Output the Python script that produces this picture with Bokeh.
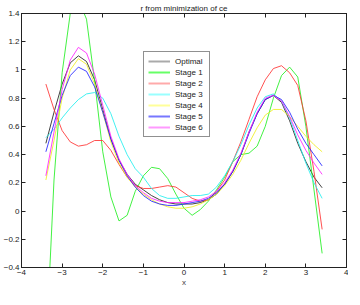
from bokeh.plotting import figure
from bokeh.models import (Range1d, LinearAxis, FixedTicker, Title, CustomJSTickFormatter,
                          Legend, LegendItem)
from bokeh.embed import file_html
from bokeh.resources import INLINE

x = [-3.4, -3.2, -3.0, -2.8, -2.6, -2.4, -2.2, -2.0, -1.8, -1.6, -1.4, -1.2,
     -1.0, -0.8, -0.6, -0.4, -0.2, 0.0, 0.2, 0.4, 0.6, 0.8, 1.0, 1.2,
     1.4, 1.6, 1.8, 2.0, 2.2, 2.4, 2.6, 2.8, 3.0, 3.2, 3.4]

optimal = [0.48, 0.70, 0.90, 1.05, 1.10, 1.06, 0.93, 0.72, 0.51, 0.36, 0.26, 0.19,
           0.15, 0.11, 0.08, 0.06, 0.05, 0.05, 0.05, 0.06, 0.08, 0.12, 0.19, 0.28,
           0.40, 0.56, 0.69, 0.79, 0.82, 0.77, 0.64, 0.48, 0.35, 0.24, 0.165]
stage1 = [-1.00, 0.22, 0.98, 1.40, 1.50, 1.36, 0.92, 0.42, 0.10, -0.07, -0.03, 0.14,
          0.25, 0.31, 0.30, 0.23, 0.12, 0.02, -0.03, 0.01, 0.07, 0.15, 0.24, 0.35,
          0.40, 0.41, 0.46, 0.60, 0.80, 0.96, 1.02, 0.95, 0.60, 0.15, -0.30]
stage2 = [0.90, 0.72, 0.57, 0.49, 0.46, 0.47, 0.50, 0.50, 0.43, 0.33, 0.24, 0.18,
          0.16, 0.16, 0.17, 0.18, 0.17, 0.13, 0.09, 0.07, 0.08, 0.14, 0.22, 0.35,
          0.49, 0.65, 0.81, 0.93, 1.01, 1.03, 0.98, 0.89, 0.64, 0.28, -0.13]
stage3 = [0.52, 0.58, 0.66, 0.73, 0.79, 0.83, 0.84, 0.80, 0.69, 0.53, 0.40, 0.30,
          0.24, 0.16, 0.11, 0.09, 0.09, 0.10, 0.11, 0.11, 0.12, 0.17, 0.25, 0.35,
          0.47, 0.61, 0.73, 0.81, 0.83, 0.78, 0.66, 0.50, 0.34, 0.20, 0.09]
stage4 = [0.22, 0.50, 0.80, 1.00, 1.08, 1.04, 0.90, 0.70, 0.49, 0.34, 0.24, 0.17,
          0.12, 0.08, 0.05, 0.03, 0.02, 0.02, 0.03, 0.05, 0.08, 0.12, 0.18, 0.26,
          0.36, 0.48, 0.59, 0.68, 0.72, 0.72, 0.67, 0.60, 0.53, 0.47, 0.42]
stage5 = [0.42, 0.62, 0.82, 0.96, 1.02, 0.99, 0.88, 0.70, 0.51, 0.36, 0.25, 0.17,
          0.11, 0.07, 0.05, 0.04, 0.04, 0.05, 0.06, 0.07, 0.09, 0.13, 0.19, 0.28,
          0.40, 0.55, 0.69, 0.79, 0.82, 0.79, 0.70, 0.58, 0.48, 0.40, 0.32]
stage6 = [0.25, 0.56, 0.86, 1.07, 1.16, 1.12, 0.97, 0.75, 0.53, 0.37, 0.26, 0.18,
          0.13, 0.09, 0.07, 0.06, 0.06, 0.06, 0.07, 0.08, 0.10, 0.14, 0.20, 0.29,
          0.41, 0.56, 0.70, 0.80, 0.82, 0.78, 0.67, 0.54, 0.43, 0.34, 0.26]

names = ["Optimal", "Stage 1", "Stage 2", "Stage 3", "Stage 4", "Stage 5", "Stage 6"]
series = [optimal, stage1, stage2, stage3, stage4, stage5, stage6]
colors = ["#222222", "#22ee22", "#ff3333", "#22eeee", "#eeee22", "#2222ff", "#ff22ff"]
legend_colors = ["#aaaaaa", "#66ff66", "#ffaaaa", "#99ffff", "#ffff99", "#7777ff", "#ff99ff"]

x_ticks = [-4, -3, -2, -1, 0, 1, 2, 3, 4]
y_ticks = [-0.4, -0.2, 0, 0.2, 0.4, 0.6, 0.8, 1, 1.2, 1.4]
y_labels = {-0.4: "\u22120.4", -0.2: "\u22120.2", 0: "0", 0.2: "0.2", 0.4: "0.4",
            0.6: "0.6", 0.8: "0.8", 1: "1", 1.2: "1.2", 1.4: "1.4"}
x_labels = {-4: "\u22124", -3: "\u22123", -2: "\u22122", -1: "\u22121", 0: "0",
            1: "1", 2: "2", 3: "3", 4: "4"}

FONT = "Liberation Sans"

p = figure(width=348, height=289, output_backend="svg", toolbar_location=None,
           x_range=Range1d(-4, 4), y_range=Range1d(-0.4, 1.4),
           min_border_left=0, min_border_right=2, min_border_top=0, min_border_bottom=0)
p.title = Title(text="r from minimization of ce", align="center",
                text_font=FONT, text_font_size="8px", text_font_style="normal",
                text_color="#222222", standoff=2)
p.xgrid.visible = False
p.ygrid.visible = False
p.outline_line_color = "#222222"
p.outline_line_width = 1

def style_axis(ax, ticks, labels, show_labels=True):
    ax.ticker = FixedTicker(ticks=ticks)
    ax.major_tick_in = 4
    ax.major_tick_out = 0
    ax.minor_tick_in = 0
    ax.minor_tick_out = 0
    ax.axis_line_color = "#222222"
    ax.major_tick_line_color = "#222222"
    ax.major_label_text_font = FONT
    ax.major_label_text_color = "#222222"
    ax.major_label_text_font_size = "8px"
    if show_labels:
        ax.major_label_overrides = labels
        ax.major_label_standoff = 2
    else:
        ax.formatter = CustomJSTickFormatter(code="return ''")
        ax.major_label_standoff = 0

style_axis(p.xaxis[0], x_ticks, x_labels)
style_axis(p.yaxis[0], y_ticks, y_labels)
p.xaxis[0].axis_label = "x"
p.xaxis[0].axis_label_text_font = FONT
p.xaxis[0].axis_label_text_font_size = "8px"
p.xaxis[0].axis_label_text_font_style = "normal"
p.xaxis[0].axis_label_standoff = 0

top_ax = LinearAxis()
style_axis(top_ax, x_ticks, x_labels, show_labels=False)
p.add_layout(top_ax, "above")
right_ax = LinearAxis()
style_axis(right_ax, y_ticks, y_labels, show_labels=False)
p.add_layout(right_ax, "right")

for ys, c in zip(series, colors):
    p.line(x, ys, line_color=c, line_width=1, line_alpha=0.85)

items = []
for name, lc in zip(names, legend_colors):
    r = p.multi_line(xs=[[]], ys=[[]], line_color=lc, line_width=2)
    items.append(LegendItem(label=name, renderers=[r], index=0))

lg = Legend(items=items, location=(122, 130),
            label_text_font=FONT, label_text_font_size="8px",
            label_text_color="#222222",
            label_height=10, glyph_height=10, glyph_width=22, label_width=30,
            spacing=1, padding=4, margin=0,
            border_line_color="#222222", border_line_width=1,
            background_fill_color="white", background_fill_alpha=1)
p.add_layout(lg, "center")

open("out.html", "w").write(file_html(p, INLINE))
